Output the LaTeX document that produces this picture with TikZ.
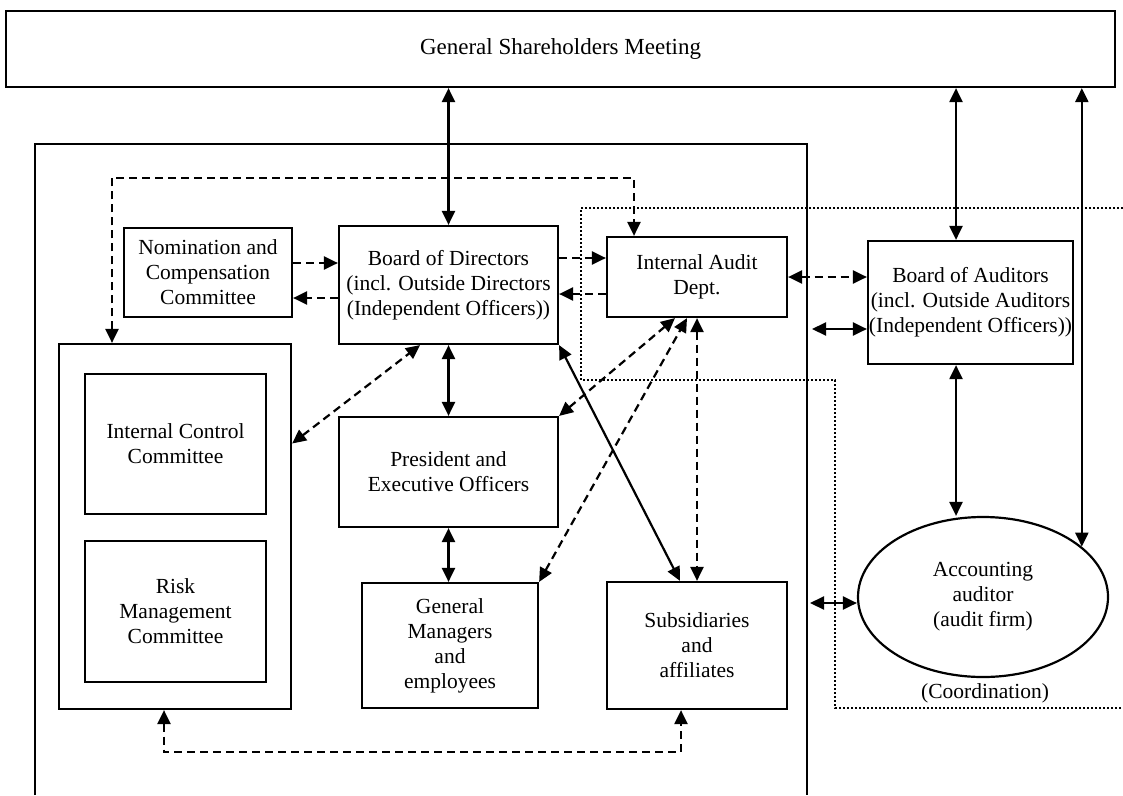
\documentclass[tikz,border=0pt]{standalone}
\usepackage{fontspec}
\setmainfont{Liberation Serif}
\usetikzlibrary{arrows.meta,shapes.geometric}

\begin{document}
\begin{tikzpicture}[x=1pt,y=-1pt,
  >={Triangle[length=14pt,width=13pt]},
  unit/.style={draw,line width=2.2pt,align=center,inner sep=0pt,font=\fontsize{21.5}{25}\selectfont},
  frame/.style={line width=2.2pt},
  zone/.style={line width=2pt,dash pattern=on 2pt off 2pt},
  link/.style={line width=2.2pt,<->},
  dlink/.style={link,dash pattern=on 8pt off 5pt},
  done/.style={line width=2.2pt,->,dash pattern=on 8pt off 5pt}]
\useasboundingbox (0,0) rectangle (1123,795);

\node[unit,minimum width=1109pt,minimum height=76pt,font=\fontsize{23}{27}\selectfont] (gsm) at (560.5,49) {General Shareholders Meeting};

\coordinate (cobl) at (35,795);
\coordinate (cotr) at (807,144);
\draw[frame] (cobl) |- (cotr) -- (cotr |- cobl);
\draw[zone] (1123,208) -| (581,380) -| (835,708) -- (1123,708);

\node[unit,minimum width=168pt,minimum height=89pt] (nc) at (208,272.5) {Nomination and\\Compensation\\Committee};
\node[unit,minimum width=219pt,minimum height=118pt] (bod) at (448.5,285) {Board of Directors\\(incl. Outside Directors\\(Independent Officers))};
\node[unit,minimum width=180pt,minimum height=80pt] (iad) at (697,277) {Internal Audit\\Dept.};
\node[unit,minimum width=205pt,minimum height=123pt] (boa) at (970.5,302.5) {Board of Auditors\\(incl. Outside Auditors\\(Independent Officers))};
\node[unit,minimum width=232pt,minimum height=365pt] (icgrp) at (175,526.5) {};
\node[unit,minimum width=181pt,minimum height=140pt] (icc) at (175.5,444) {Internal Control\\Committee};
\node[unit,minimum width=181pt,minimum height=141pt] (rmc) at (175.5,611.5) {Risk\\Management\\Committee};
\node[unit,minimum width=219pt,minimum height=110pt] (pres) at (448.5,472) {President and\\Executive Officers};
\node[unit,minimum width=176pt,minimum height=125pt] (gme) at (450,645.5) {General\\Managers\\and\\employees};
\node[unit,minimum width=180pt,minimum height=127pt] (subs) at (697,645.5) {Subsidiaries\\and\\affiliates};
\node[unit,ellipse,minimum width=250pt,minimum height=160pt] (acc) at (983,597) {Accounting\\auditor\\(audit firm)};
\node[unit,draw=none] (coord) at (985,693) {(Coordination)};

\coordinate (audx) at (956,0);
\coordinate (cb) at (812,329);
\coordinate (ca) at (810,603);

\draw[link] (gsm.south -| bod.north) -- (bod.north);
\draw[link] (gsm.south -| audx) -- (boa.north -| audx);
\draw[link] (gsm.south -| acc.27) -- (acc.27);
\draw[link] (boa.south -| audx) -- (audx |- acc.north);
\draw[link] (cb) -- (cb -| boa.west);
\draw[link] (ca) -- (ca -| acc.west);
\draw[dlink] (iad.east) -- (iad.east -| boa.west);

\draw[done] ([yshift=9.5pt]nc.east) -- ([yshift=9.5pt]nc.east -| bod.west);
\draw[done] ([yshift=-25.5pt]nc.east -| bod.west) -- ([yshift=-25.5pt]nc.east);
\draw[done] ([yshift=27pt]bod.east) -- ([yshift=27pt]bod.east -| iad.west);
\draw[done] ([yshift=-17pt]iad.west) -- ([yshift=-17pt]iad.west -| bod.east);

\draw[link] (bod.south) -- (pres.north);
\draw[link] (pres.south) -- (pres.south |- gme.north);
\draw[link] (bod.south east) -- ([xshift=-17pt]subs.north);
\draw[dlink] ([yshift=83pt]icgrp.east) -- ([xshift=-28.5pt]bod.south);
\draw[dlink] (pres.north east) -- ([xshift=-22pt]iad.south);
\draw[dlink] (gme.north east) -- ([xshift=-10pt]iad.south);
\draw[dlink] (iad.south) -- (subs.north);

\draw[dlink] ([xshift=-63pt]icgrp.north) |- ([xshift=-63pt,yshift=58pt]iad.north) -- ([xshift=-63pt]iad.north);
\draw[dlink] ([xshift=-11pt]icgrp.south) |- ([xshift=-16pt,yshift=-42pt]subs.south) -- ([xshift=-16pt]subs.south);
\end{tikzpicture}
\end{document}
